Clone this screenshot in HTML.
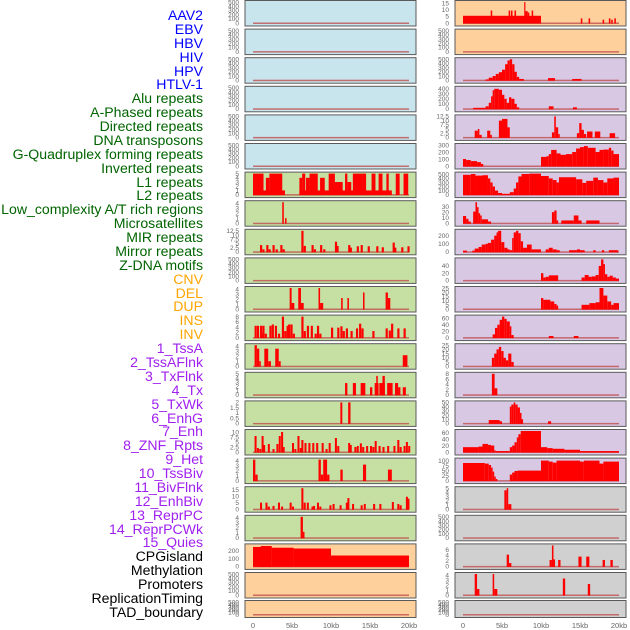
<!DOCTYPE html>
<html><head><meta charset="utf-8">
<style>
html,body{margin:0;padding:0;background:#fff;}
body{width:630px;height:630px;overflow:hidden;position:relative;font-family:"Liberation Sans",sans-serif;}
#labels div{position:absolute;right:427px;font-size:14.1px;line-height:14px;white-space:nowrap;}
svg{position:absolute;left:0;top:0;}
</style></head>
<body>
<div id="labels"></div>
<svg id="chart" width="630" height="630"></svg>
<script>
// ---- track label data ----
const labelNames = ["AAV2","EBV","HBV","HIV","HPV","HTLV-1","Alu repeats","A-Phased repeats","Directed repeats","DNA transposons","G-Quadruplex forming repeats","Inverted repeats","L1 repeats","L2 repeats","Low_complexity A/T rich regions","Microsatellites","MIR repeats","Mirror repeats","Z-DNA motifs","CNV","DEL","DUP","INS","INV","1_TssA","2_TssAFlnk","3_TxFlnk","4_Tx","5_TxWk","6_EnhG","7_Enh","8_ZNF_Rpts","9_Het","10_TssBiv","11_BivFlnk","12_EnhBiv","13_ReprPC","14_ReprPCWk","15_Quies","CPGisland","Methylation","Promoters","ReplicationTiming","TAD_boundary"];
const labelGroups = [6,13,5,15,5];
const groupColors = ["#0000ff","#006400","#ffa500","#a020f0","#000000"];

// ---- panel backgrounds ----
const leftBg = ["b","b","b","b","b","b","g","g","g","g","g","g","g","g","g","g","g","g","g","o","o","o"];
const rightBg = ["o","o","p","p","p","p","p","p","p","p","p","p","p","p","p","p","p","g2","g2","g2","g2","g2"];
const bgColors = {b:"#c8e4ec",g:"#c6e0a4",o:"#fdd09c",p:"#d8c8e4",g2:"#d0d0d0"};

// ---- x axis ----
const xTicks = [0,5,10,15,20];
const xTickLabels = ["0","5kb","10kb","15kb","20kb"];

// ---- y ticks per panel ----
const T500 = [0,100,200,300,400,500];
const leftTicks = [T500,T500,T500,T500,T500,T500,[0,1,2,3,4,5],[0,1,2,3,4],[0,2.5,5,7.5,10,12.5],T500,[0,1,2,3,4],[0,2,4,6,8],[0,1,2,3,4],[0,1,2,3,4,5],[0,0.5,1,1.5,2],[0,2.5,5,7.5,10],[0,1,2,3,4],[0,5,10,15],[0,1,2,3,4],[0,100,200],T500,T500];
const leftMax = [500,500,500,500,500,500,5,4.2,12.5,500,4.2,8,4.2,5,2,10.5,4.2,16,4.2,270,500,500];
const rightTicks = [[0,5,10,15],T500,T500,[0,100,200,300,400],[0,2.5,5,7.5,10,12.5],[0,100,200,300],T500,[0,10,20,30],[0,100,200],[0,20,40],[0,5,10,15,20,25],[0,20,40,60],[0,5,10,15,20,25],[0,2,4,6,8],[0,10,20,30,40,50],[0,20,40,60],[0,25,50,75,100],[0,1,2,3,4,5],T500,[0,2,4,6],[0,1,2,3,4],T500];
const rightMax = [16,500,500,420,12.5,300,520,38,260,58,25,65,25,8,50,65,105,5,500,7.5,4.2,500];

// ---- series segments [startKb, endKb, value] ----
const L6 = [[0,4.1,1],[0,1.35,5],[1.65,2.1,4],[2.1,3.75,5],[5.95,17.8,1],[5.95,6.3,4],[6.3,6.7,5],[6.8,7.25,4],[7.25,8.3,5],[8.6,9.2,4],[9.7,10.5,5],[10.3,11.5,3],[11.8,12.1,5],[12.1,12.6,3],[12.8,14.1,5],[14.1,14.5,5],[15.2,15.7,5],[16.1,16.6,5],[17.1,17.4,5],[18.3,18.8,5],[19.3,19.9,5]];
const L7 = [[3.75,3.95,4.2],[4.1,4.3,1]];
const L8pos = [0.9,1.2,1.7,2.0,2.5,2.9,3.5,3.8,6.2,6.5,7.5,7.8,8.6,9.0,10.5,10.7,12.2,12.4,13.3,13.8,14.7,15.8,16.5,17.9,18.1,19.0,19.8];
const L8val = [4,1.5,4,1.5,4,1.5,4,1.5,12.5,3.5,4,1.5,4,1.5,6,3.5,4,2.5,3.3,4,3.3,3.3,2.7,5.5,2.5,2.7,3.3];
const L10 = [[4.7,4.95,4.2],[4.95,5.3,1.2],[5.8,6.15,4.2],[6.15,6.5,1.2],[8.4,8.6,4.2],[8.6,9.0,1.2],[11.3,11.5,2.2],[12.1,12.3,2.2],[14.1,14.3,3.3],[17.0,17.3,3.3],[17.3,17.6,2.2]];
const L11pos = [0.2,0.5,0.9,1.1,1.2,1.5,2.1,2.4,2.8,3.2,3.7,4.0,4.3,4.5,4.8,5.1,6.2,6.5,6.9,7.4,7.9,8.2,8.5,10.0,10.8,11.2,11.5,11.9,12.5,13.2,13.6,13.9,15.3,17.0,17.4,17.7,18.5,19.3];
const L11val = [4.5,4.5,4.5,1.5,4.5,1.5,4.5,5,4.5,1.5,8,2.5,4.5,5,5,1.5,8,2.5,4.5,4.5,1.5,4.5,1.5,3.8,3.8,4.3,2.5,3.5,2.5,3.5,5.3,3.5,2.5,3.5,2.7,5.3,3.5,3.5];
const L12 = [[0.2,0.5,4.2],[0.5,0.8,3.5],[0.8,1.0,1],[1.45,1.95,3.5],[1.95,2.3,1],[2.85,3.3,3.5],[3.3,3.55,1],[19.2,19.8,2.2]];
const L13 = [[11.8,12.1,2.8],[12.8,13.2,2.8],[13.8,14.4,2.8],[15.0,15.3,1.8],[15.6,16.1,2.8],[15.8,16.0,4.5],[16.2,16.9,2.8],[16.6,16.9,4.5],[17.2,17.9,2.8],[18.2,18.6,2.8],[18.6,18.9,1.8],[19.2,19.6,1.8]];
const L14 = [[11.2,11.45,2.2],[12.2,12.5,2.2]];
const L15pos = [0.2,0.5,0.8,1.1,1.3,1.9,2.5,3.0,3.3,3.6,3.8,5.0,5.3,5.7,6.0,6.2,6.6,7.1,7.6,8.1,8.8,9.3,9.7,10.5,10.8,12.2,12.4,13.0,13.3,13.7,14.0,14.5,15.0,15.3,15.6,16.1,16.6,17.2,18.0,18.5,18.8,19.3,19.6,19.9];
const L15val = [8,2,1.5,8,3.5,4,1.5,4,8,10,2.5,4.5,1.5,8,2,6,4.5,4.5,4.5,4.5,4.5,1.5,4.5,7,3,4.5,3.5,2.5,3,4.3,2.5,3,3,2.5,5.5,3,2.5,3,3,6,2.5,3,5,3];
const L16 = [[0,0.3,4.2],[0.3,0.6,1.2],[8.4,8.7,4.2],[8.7,9.0,1.2],[9.0,9.5,4.2],[9.5,9.8,1.2],[11.2,11.5,2.2],[14.1,14.5,3.2],[17.3,17.8,2.2]];
const L17pos = [0.9,1.6,1.9,2.5,3.2,3.6,4.7,5.0,6.2,6.5,6.9,7.5,7.7,8.2,8.5,9.8,10.2,11.1,11.9,12.1,12.7,13.8,14.2,15.4,16.2,17.8,18.5,18.8,19.6,19.8];
const L17val = [5,5,2,2.5,5,2,5,2,16,5,5,2,2.5,5,2,3,4,3,5,8.5,4,3,4,4,4,5.5,4,3,9.5,8];
const L18 = [[6.1,6.4,4.2],[6.4,6.6,1.2]];
const L19 = [[0,2.4,250],[1.0,2.4,262],[2.4,5.2,240],[5.2,10.0,230],[10.0,20,140]];

const R0 = [[0,10.0,5.5],[3.55,3.75,9.5],[5.85,6.05,9.5],[6.15,6.35,9.5],[6.6,6.8,9.5],[7.85,8.0,16],[8.0,8.3,9],[8.3,8.5,8],[8.8,9.0,9.5],[15.1,15.3,3.5],[16.1,16.3,3.5],[17.9,18.1,2.5],[18.7,18.9,3.5],[19.0,19.2,2.5],[19.4,19.6,3.5]];
const R2 = [[2.9,3.3,20],[3.3,3.8,60],[3.8,4.2,100],[4.2,4.6,150],[4.6,5.0,190],[5.0,5.4,250],[5.4,5.7,380],[5.7,6.0,470],[6.0,6.3,500],[6.3,6.6,380],[6.6,6.9,200],[6.9,7.2,80],[7.2,7.8,30],[10.9,11.8,50],[14.0,15.2,30]];
const R3 = [[1.3,2.9,20],[2.9,3.3,50],[3.3,3.6,120],[3.6,3.8,250],[3.8,4.0,370],[4.0,4.6,400],[4.6,5.0,380],[5.0,5.3,280],[5.3,5.6,200],[5.6,5.9,120],[5.9,6.2,230],[6.2,6.6,200],[6.6,6.9,100],[6.9,7.2,30],[11.0,11.6,50],[14.1,14.6,30]];
const R4 = [[1.5,1.9,4],[1.9,2.1,5],[2.1,2.4,1.5],[3.1,3.5,4],[3.5,3.7,1.5],[4.6,5.0,10],[5.0,5.7,11],[5.7,6.0,6],[11.4,11.7,3],[11.7,11.9,12.5],[11.9,12.2,6],[12.2,12.4,2],[14.6,14.9,2.5],[14.9,15.2,8.5],[15.2,15.5,4.5],[15.5,15.8,2],[15.9,16.6,3.5],[16.9,17.6,3.5],[18.8,19.5,2.5]];
const R5 = [[0,0.4,100],[0.4,1.0,85],[1.0,1.8,70],[1.8,2.3,55],[2.3,2.6,30],[10.0,10.7,130],[10.7,11.0,140],[11.0,11.3,170],[11.3,12.0,230],[12.0,12.5,180],[12.5,13.2,160],[13.2,14.0,170],[14.0,14.5,200],[14.5,15.0,250],[15.0,15.5,270],[15.5,16.0,285],[16.0,17.0,260],[17.0,17.5,200],[17.5,18.0,230],[18.0,18.7,235],[18.7,19.0,260],[19.0,19.3,220],[19.3,20.0,170]];
const R6 = [[0,1.0,490],[1.0,1.6,510],[1.6,2.5,470],[2.5,3.2,480],[3.2,3.5,400],[3.5,3.8,300],[3.8,4.1,200],[4.1,4.5,100],[4.5,5.0,40],[5.0,6.0,20],[6.0,6.5,60],[6.5,6.8,150],[6.8,7.1,300],[7.1,7.5,450],[7.5,8.5,510],[8.5,10.0,520],[10.0,11.0,460],[11.0,11.5,400],[11.5,12.0,360],[12.0,12.3,300],[12.3,14.5,430],[14.5,15.3,380],[15.3,15.8,290],[15.8,16.7,340],[16.7,17.3,420],[17.3,18.0,360],[18.0,18.5,300],[18.5,19.3,400],[19.3,20.0,420]];
const R7 = [[0,0.4,13],[0.4,0.7,8],[0.7,1.0,3],[1.3,1.6,21],[1.6,1.8,38],[1.8,2.0,29],[2.0,2.2,18],[2.2,2.4,14],[2.4,3.2,7],[3.2,3.6,3],[11.4,11.7,20],[11.7,12.0,23],[12.0,12.2,5],[12.6,14.2,5],[14.2,14.8,14],[14.8,15.2,5],[15.8,17.5,5]];
const R8 = [[0,0.5,15],[1.2,1.5,15],[1.5,2.0,40],[2.0,2.4,60],[2.4,2.9,90],[2.9,3.2,100],[3.2,3.6,110],[3.6,4.0,150],[4.0,4.3,200],[4.3,4.5,240],[4.5,4.9,260],[4.9,5.3,120],[5.3,5.7,50],[5.7,6.0,30],[6.0,6.3,20],[6.3,6.5,170],[6.5,6.8,240],[6.8,7.1,260],[7.1,7.4,230],[7.4,7.7,130],[7.7,8.2,50],[8.2,8.8,90],[8.8,10.0,30],[10.6,11.0,30],[11.0,11.5,50],[11.5,12.0,30],[12.0,12.4,20],[13.6,14.6,20],[14.6,15.0,30],[15.0,15.6,20],[16.7,17.0,20],[17.8,18.1,20],[18.7,19.9,20]];
const R9 = [[10.0,10.3,20],[10.3,10.6,8],[10.6,11.0,10],[11.0,12.2,14],[15.2,15.6,8],[15.6,16.1,15],[16.1,16.5,10],[16.5,17.0,11],[17.0,17.4,15],[17.4,17.7,40],[17.7,18.0,58],[18.0,18.2,45],[18.2,18.5,17],[18.5,18.8,10],[18.8,19.2,13],[19.2,19.6,8],[19.6,20,5]];
const R10 = [[10,10.3,13],[10.3,11.2,11],[11.2,11.7,9],[11.7,12.0,6],[12.0,12.2,4],[15.2,16.2,5],[16.2,17.0,7],[17.0,17.5,8],[17.5,18.0,25],[18.0,18.5,16],[18.5,19.0,9],[19.0,19.3,5],[19.3,20,7]];
const R11 = [[3.8,4.1,10],[4.1,4.4,30],[4.4,4.7,40],[4.7,5.0,55],[5.0,5.3,65],[5.3,5.6,58],[5.6,6.0,50],[6.0,6.2,35],[6.2,6.5,8],[11.0,11.6,5],[14.2,14.8,5]];
const R12 = [[3.7,4.0,10],[4.0,4.3,15],[4.3,4.6,20],[4.6,4.9,23],[4.9,5.2,18],[5.2,5.5,10],[5.5,5.8,7],[5.8,6.2,15],[6.2,6.5,5]];
const R13 = [[3.7,4.05,8],[4.05,4.4,2.5]];
const R14 = [[3.3,4.7,8],[4.7,5.0,5],[6.0,6.2,40],[6.2,6.5,45],[6.5,6.7,50],[6.7,7.0,45],[7.0,7.3,38],[7.3,7.5,25],[7.5,7.7,10],[10.9,11.3,5]];
const R15 = [[0,2,15],[2,2.5,17],[2.5,3.2,25],[3.2,3.6,22],[3.6,4.0,20],[4.0,4.2,5],[4.2,6.0,3],[6.0,6.3,15],[6.3,6.6,20],[6.6,6.9,30],[6.9,7.1,45],[7.1,7.4,55],[7.4,10.0,65],[10.0,10.8,15],[10.8,11.5,12],[11.5,13.0,10],[13.0,15.0,7],[15.0,20,3]];
const R16 = [[0,2.8,88],[2.8,3.3,85],[3.3,3.6,78],[3.6,3.8,65],[3.8,4.0,45],[4.0,4.2,20],[4.2,4.4,8],[6.0,6.3,30],[6.3,6.6,40],[6.6,7.0,48],[7.0,10.0,50],[10.0,11.0,100],[11.0,11.5,95],[11.5,12.0,90],[12.0,15.0,100],[15.0,15.5,95],[15.5,17.5,100],[17.5,18.0,85],[18.0,20,95]];
const R17 = [[5.3,5.6,4.5],[5.6,5.8,5],[5.8,6.2,1.2]];
const R19 = [[5.6,5.9,4.2],[5.9,6.2,1.2],[11.1,11.4,2.3],[11.4,11.6,7.5],[11.6,11.8,2.5],[12.2,12.5,2.3],[14.8,15.2,3.5],[15.8,16.2,3.5],[17.9,18.2,2.3],[18.9,19.2,2.3]];
const R20 = [[1.5,1.8,4.2],[1.8,2.1,1.2],[3.8,4.0,4.2],[4.0,4.4,1.2],[12.8,13.1,3.3],[16.0,16.3,2.2]];

function bars(pos,val,w){return pos.map((p,i)=>[p,p+w,val[i]]);}
const leftData = [[],[],[],[],[],[],L6,L7,bars(L8pos,L8val,0.28),[],L10,bars(L11pos,L11val,0.28),L12,L13,L14,bars(L15pos,L15val,0.26),L16,bars(L17pos,L17val,0.26),L18,L19,[],[]];
const rightData = [R0,[],R2,R3,R4,R5,R6,R7,R8,R9,R10,R11,R12,R13,R14,R15,R16,R17,[],R19,R20,[]];

// ---- labels ----
const lab = document.getElementById('labels');
let gi=0, cnt=0;
labelNames.forEach((n,i)=>{
  while(cnt>=labelGroups[gi]){cnt-=labelGroups[gi];gi++;}
  const d=document.createElement('div');
  d.textContent=n;
  d.style.top=(8+i*13.88)+'px';
  d.style.color=groupColors[gi];
  
  
  lab.appendChild(d);
  cnt++;
});

// ---- chart ----
const NS="http://www.w3.org/2000/svg";
const svg=document.getElementById('chart');
function mk(tag,attrs,parent){const e=document.createElementNS(NS,tag);for(const k in attrs)e.setAttribute(k,attrs[k]);(parent||svg).appendChild(e);return e;}
function rowTop(i){return i===21?600.5:0.5+28.6*i;}
function rowH(i){return i===21?17:25.5;}
function xScale(colX0,kb){return colX0+8+kb*7.8;}
function yScale(i,v,max){const b=rowTop(i)+rowH(i)-3,t=rowTop(i)+1.5;return b-(v/max)*(b-t);}

function drawCol(x0,bgs,ticks,maxes,data,side){
  for(let i=0;i<22;i++){
    const g=mk('g',{});
    
    
    const top=rowTop(i),h=rowH(i);
    const r=mk('rect',{x:x0,y:top,width:171,height:h,fill:bgColors[bgs[i]],stroke:"#5a5a5a","stroke-width":1},g);
    
    
    const bl=mk('rect',{x:xScale(x0,0),y:yScale(i,0,maxes[i])-0.5,width:xScale(x0,20)-xScale(x0,0),height:1.5,fill:"#c05050",opacity:0.8},g);
    
    
    data[i].forEach(s=>{
      const y=yScale(i,Math.min(s[2],maxes[i]),maxes[i]);
      const yb=yScale(i,0,maxes[i]);
      const b=mk('rect',{x:xScale(x0,s[0]),y:y,width:Math.max(0.8,xScale(x0,s[1])-xScale(x0,s[0])),height:Math.max(0,yb-y+0.5),fill:"#ff0000"},g);
      
      
    });
    ticks[i].forEach(t=>{
      const tx=mk('text',{x:x0-6,y:yScale(i,t,maxes[i])+2.3,"text-anchor":"end","font-size":"6.5","fill":"#666","font-family":"Liberation Sans, sans-serif"},g);
      tx.textContent=String(t);
      
      
    });
  }
  xTicks.forEach((t,k)=>{
    const tx=mk('text',{x:xScale(x0,t),y:628,"text-anchor":"middle","font-size":"7.5","fill":"#666","font-family":"Liberation Sans, sans-serif"});
    tx.textContent=xTickLabels[k];
    
    
  });
}
drawCol(245,leftBg,leftTicks,leftMax,leftData,'left');
drawCol(455,rightBg,rightTicks,rightMax,rightData,'right');
</script>
</body></html>
